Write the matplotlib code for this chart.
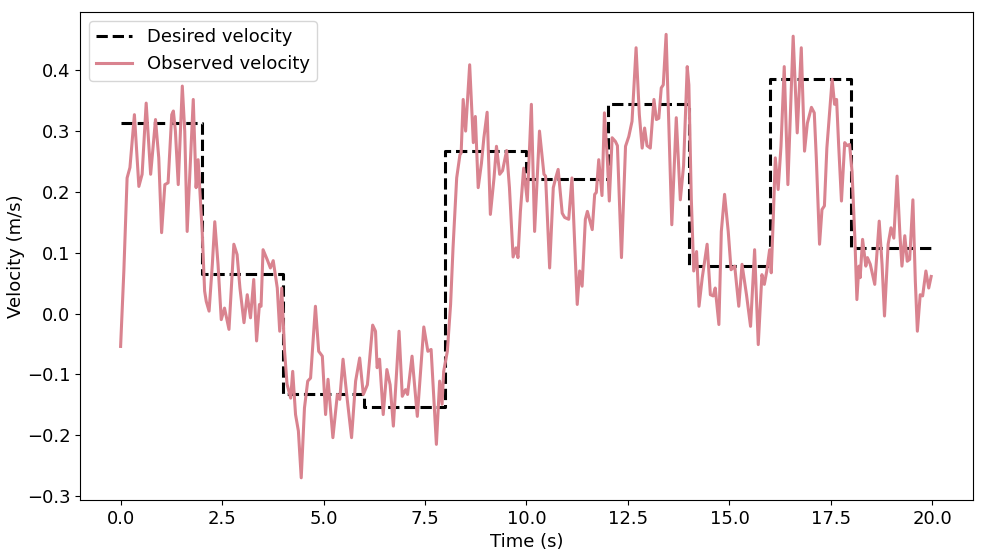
import numpy as np
import matplotlib
matplotlib.use("Agg")
import matplotlib.pyplot as plt

# desired velocity: one value per 2 s segment
step_times = [0, 2, 4, 6, 8, 10, 12, 14, 16, 18, 20]
step_values = [0.314, 0.065, -0.132, -0.154, 0.268, 0.222, 0.345, 0.079, 0.386, 0.107]

# observed velocity
obs_t = [0.00, 0.08, 0.16, 0.23, 0.34, 0.45, 0.53, 0.63, 0.74, 0.86, 0.94, 1.01, 1.09, 1.17,
         1.26, 1.30, 1.35, 1.42, 1.52, 1.58, 1.64, 1.79, 1.86, 1.91, 1.95, 2.01, 2.07, 2.11,
         2.18, 2.26, 2.32, 2.40, 2.48, 2.56, 2.67, 2.79, 2.87, 2.94, 3.04, 3.12, 3.20, 3.28,
         3.35, 3.42, 3.46, 3.51, 3.61, 3.69, 3.76, 3.86, 3.92, 3.97, 4.04, 4.10, 4.19, 4.24,
         4.31, 4.38, 4.45, 4.53, 4.61, 4.68, 4.80, 4.88, 4.97, 5.05, 5.11, 5.23, 5.34, 5.40,
         5.48, 5.58, 5.69, 5.79, 5.89, 5.98, 6.08, 6.21, 6.28, 6.32, 6.38, 6.47, 6.56, 6.64,
         6.72, 6.86, 6.94, 7.02, 7.07, 7.18, 7.31, 7.47, 7.57, 7.65, 7.78, 7.86, 7.92, 7.96,
         8.05, 8.13, 8.19, 8.28, 8.36, 8.39, 8.44, 8.50, 8.60, 8.69, 8.74, 8.81, 8.89, 8.95,
         9.03, 9.11, 9.20, 9.26, 9.34, 9.41, 9.51, 9.58, 9.67, 9.74, 9.79, 9.85, 9.93, 10.02,
         10.12, 10.20, 10.32, 10.43, 10.47, 10.57, 10.66, 10.72, 10.78, 10.88, 10.94, 11.04,
         11.12, 11.18, 11.25, 11.31, 11.37, 11.45, 11.50, 11.62, 11.68, 11.72, 11.78, 11.86,
         11.92, 11.99, 12.04, 12.11, 12.19, 12.24, 12.34, 12.44, 12.52, 12.60, 12.70, 12.78,
         12.85, 12.91, 12.97, 13.05, 13.14, 13.20, 13.26, 13.32, 13.37, 13.44, 13.50, 13.58,
         13.69, 13.79, 13.87, 13.96, 14.00, 14.06, 14.12, 14.19, 14.25, 14.33, 14.45, 14.53,
         14.60, 14.65, 14.74, 14.80, 14.88, 14.97, 15.04, 15.13, 15.23, 15.31, 15.42, 15.52,
         15.62, 15.71, 15.80, 15.86, 15.92, 15.99, 16.03, 16.08, 16.13, 16.20, 16.27, 16.35,
         16.44, 16.57, 16.67, 16.77, 16.85, 16.92, 17.02, 17.09, 17.14, 17.22, 17.28, 17.34,
         17.40, 17.53, 17.59, 17.64, 17.69, 17.76, 17.84, 17.90, 17.96, 18.02, 18.09, 18.14,
         18.19, 18.22, 18.28, 18.36, 18.40, 18.47, 18.58, 18.69, 18.76, 18.82, 18.91, 18.98,
         19.05, 19.13, 19.20, 19.25, 19.32, 19.38, 19.44, 19.52, 19.58, 19.63, 19.70, 19.76,
         19.84, 19.91, 19.97]
obs_v = [-0.054, 0.070, 0.223, 0.240, 0.327, 0.209, 0.229, 0.346, 0.229, 0.319, 0.256, 0.133,
         0.212, 0.215, 0.327, 0.333, 0.300, 0.212, 0.374, 0.300, 0.135, 0.352, 0.207, 0.253,
         0.207, 0.135, 0.037, 0.020, 0.004, 0.081, 0.151, 0.081, -0.010, 0.009, -0.026, 0.114,
         0.097, 0.042, -0.015, 0.031, -0.007, 0.056, -0.045, 0.015, 0.012, 0.105, 0.089, 0.075,
         0.087, 0.042, -0.029, 0.042, -0.062, -0.116, -0.139, -0.095, -0.166, -0.193, -0.270,
         -0.155, -0.111, -0.106, 0.012, -0.062, -0.070, -0.166, -0.108, -0.204, -0.133, -0.141,
         -0.075, -0.139, -0.204, -0.111, -0.073, -0.133, -0.117, -0.019, -0.029, -0.089, -0.075,
         -0.166, -0.092, -0.117, -0.185, -0.029, -0.136, -0.125, -0.133, -0.070, -0.169, -0.022,
         -0.062, -0.059, -0.215, -0.111, -0.149, -0.095, -0.062, 0.015, 0.108, 0.223, 0.261,
         0.264, 0.352, 0.300, 0.409, 0.281, 0.324, 0.207, 0.247, 0.289, 0.331, 0.163, 0.223,
         0.275, 0.229, 0.235, 0.268, 0.207, 0.093, 0.108, 0.092, 0.168, 0.239, 0.185, 0.344,
         0.135, 0.300, 0.229, 0.226, 0.075, 0.207, 0.223, 0.237, 0.165, 0.158, 0.155, 0.223,
         0.126, 0.015, 0.070, 0.045, 0.155, 0.168, 0.138, 0.196, 0.199, 0.253, 0.194, 0.330,
         0.256, 0.185, 0.289, 0.283, 0.276, 0.092, 0.275, 0.291, 0.316, 0.437, 0.327, 0.272,
         0.305, 0.276, 0.272, 0.352, 0.319, 0.321, 0.371, 0.376, 0.459, 0.327, 0.146, 0.322,
         0.187, 0.243, 0.406, 0.376, 0.190, 0.070, 0.102, 0.012, 0.059, 0.114, 0.031, 0.029,
         0.042, -0.018, 0.135, 0.196, 0.135, 0.072, 0.078, 0.012, 0.081, 0.031, -0.021, 0.105,
         -0.051, 0.064, 0.048, 0.070, 0.105, 0.067, 0.157, 0.256, 0.204, 0.275, 0.406, 0.212,
         0.456, 0.297, 0.437, 0.267, 0.313, 0.339, 0.330, 0.256, 0.114, 0.171, 0.177, 0.272,
         0.385, 0.344, 0.352, 0.278, 0.185, 0.281, 0.276, 0.278, 0.234, 0.124, 0.023, 0.078,
         0.059, 0.122, 0.078, 0.092, 0.081, 0.048, 0.152, 0.081, -0.004, 0.114, 0.141, 0.124,
         0.226, 0.130, 0.078, 0.128, 0.086, 0.089, 0.187, 0.053, -0.029, 0.031, 0.029, 0.070,
         0.042, 0.061]

plt.rcParams['font.size'] = 13

fig = plt.figure(figsize=(9.83, 5.54), dpi=100)
ax = fig.add_axes([0.0814, 0.0975, 0.9084, 0.8805])

ax.plot(step_times, step_values + [step_values[-1]], drawstyle='steps-post',
        color='black', linestyle='--', linewidth=2.2, label='Desired velocity')
ax.plot(obs_t, obs_v, color='#d9838f', linewidth=2.2, label='Observed velocity')

ax.set_xlabel('Time (s)')
ax.set_ylabel('Velocity (m/s)', labelpad=1)
ax.set_xticks([0, 2.5, 5, 7.5, 10, 12.5, 15, 17.5, 20])
ax.legend(loc='upper left')

fig.savefig('out.png', dpi=100)
